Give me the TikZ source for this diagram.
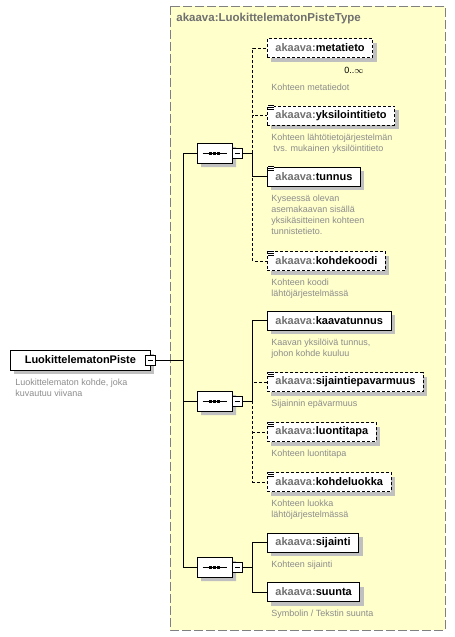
\documentclass[tikz,border=0pt]{standalone}
\usepackage{fontspec}
\setmainfont{Liberation Sans}
\usetikzlibrary{positioning,shapes.misc,shadows}
\definecolor{typefill}{RGB}{255,255,204}
\definecolor{typeline}{RGB}{128,128,128}
\definecolor{nsgray}{RGB}{112,112,112}
\definecolor{descgray}{RGB}{140,140,140}
\definecolor{shadowgray}{RGB}{192,192,192}
\newcommand{\akaava}[1]{\textcolor{nsgray}{akaava:}#1}
% three short lines in the corner of a documented element
\newcommand{\doclines}[1]{%
  \fill[white] ([xshift=1pt,yshift=1pt]#1.north west) rectangle ++(6pt,-5pt);
  \foreach \dy in {0,2,4}
    \draw[line width=0.6pt] ([xshift=1pt,yshift=-\dy pt]#1.north west) -- ++(6pt,0);}
% the dots of a sequence
\newcommand{\seqdots}[1]{%
  \draw ([xshift=-12pt]#1.center) -- ([xshift=12pt]#1.center);
  \foreach \dx in {-4,0,4}
    \fill ([xshift=\dx pt]#1.center) +(-1.5pt,-1.5pt) rectangle +(1.5pt,1.5pt);}
\newcommand{\minussign}[1]{%
  \draw ([xshift=-2.5pt]#1.center) -- ([xshift=2.5pt]#1.center);}
\tikzset{
  box/.style={draw, fill=white, minimum height=19pt, inner xsep=8pt, inner ysep=0pt,
    anchor=west, font=\fontsize{11}{13}\selectfont\bfseries,
    drop shadow={shadow xshift=4pt, shadow yshift=-4pt, fill=shadowgray, opacity=1}},
  reqbox/.style={box},
  optbox/.style={box, dash pattern=on 3pt off 2pt},
  optline/.style={dash pattern=on 3pt off 2pt},
  desc/.style={font=\fontsize{9}{11}\selectfont, text=descgray, align=left,
    inner sep=0pt, anchor=north west},
  seqbox/.style={chamfered rectangle, chamfered rectangle xsep=5pt,
    chamfered rectangle ysep=5pt, draw, fill=white, minimum width=35pt,
    minimum height=20pt, inner sep=0pt,
    drop shadow={shadow xshift=4pt, shadow yshift=-4pt, fill=shadowgray, opacity=1}},
  minusbox/.style={draw, fill=white, minimum size=10pt, inner sep=0pt},
}
\begin{document}
\begin{tikzpicture}[x=1pt, y=1pt, line width=0.8pt]
  \useasboundingbox (0,0) rectangle (455,-637);
  % the complex type
  \filldraw[fill=typefill, draw=typeline, dash pattern=on 9pt off 3pt] (170,-6) rectangle (445,-630);
  \node[anchor=west, text=nsgray, font=\fontsize{11.5}{13}\selectfont\bfseries, inner sep=0pt]
    (typename) at (176,-19) {akaava:LuokittelematonPisteType};

  % root element
  \node[box, minimum width=140pt, minimum height=20pt] (piste) at (10,-360) {LuokittelematonPiste\hspace{4pt}};
  \node[minusbox] (pistem) at ([xshift=-0.5pt]piste.east) {};
  \minussign{pistem}
  \node[desc, below right=8pt and 5pt of piste.south west] (pistedesc)
    {Luokittelematon kohde, joka\\kuvautuu viivana};

  % sequences
  \node[seqbox] (seq1) at (214.5,-153) {};
  \node[seqbox] (seq2) at (214.5,-401) {};
  \node[seqbox] (seq3) at (214.5,-567) {};
  \foreach \s in {seq1,seq2,seq3} {
    \seqdots{\s}
    \node[minusbox] (\s m) at ([xshift=5pt]\s.east) {};
    \minussign{\s m}
    \coordinate (\s f) at ([xshift=10pt]\s m.east);
  }

  % first group
  \node[optbox] (metatieto) at (267,-48) {\akaava{metatieto}};
  \node[anchor=north east, inner sep=0pt, font=\fontsize{9}{10}\selectfont]
    (metamult) at ([xshift=-9pt,yshift=-9pt]metatieto.south east) {0..$\infty$};
  \node[desc, below right=26pt and 4pt of metatieto.south west] (metatietodesc) {Kohteen metatiedot};

  \node[optbox] (yksilo) at (267,-115.5) {\akaava{yksilointitieto}};
  \doclines{yksilo}
  \node[desc, below right=8pt and 4pt of yksilo.south west] (yksilodesc)
    {Kohteen lähtötietojärjestelmän\\\hspace{2pt}tvs. mukainen yksilöintitieto};

  \node[reqbox] (tunnus) at (267,-176.5) {\akaava{tunnus}};
  \doclines{tunnus}
  \node[desc, below right=8pt and 4pt of tunnus.south west] (tunnusdesc)
    {Kyseessä olevan\\asemakaavan sisällä\\yksikäsitteinen kohteen\\tunnistetieto.};

  \node[optbox] (kohdekoodi) at (267,-261) {\akaava{kohdekoodi}};
  \doclines{kohdekoodi}
  \node[desc, below right=8pt and 4pt of kohdekoodi.south west] (kohdekoodidesc)
    {Kohteen koodi\\lähtöjärjestelmässä};

  % second group
  \node[reqbox] (kaavatunnus) at (267,-320.5) {\akaava{kaavatunnus}};
  \node[desc, below right=8pt and 4pt of kaavatunnus.south west] (kaavatunnusdesc)
    {Kaavan yksilöivä tunnus,\\johon kohde kuuluu};

  \node[optbox] (epavarmuus) at (267,-382) {\akaava{sijaintiepavarmuus}};
  \doclines{epavarmuus}
  \node[desc, below right=8pt and 4pt of epavarmuus.south west] (epavarmuusdesc)
    {Sijainnin epävarmuus};

  \node[optbox] (luontitapa) at (267,-432) {\akaava{luontitapa}};
  \doclines{luontitapa}
  \node[desc, below right=8pt and 4pt of luontitapa.south west] (luontitapadesc)
    {Kohteen luontitapa};

  \node[optbox] (kohdeluokka) at (267,-482) {\akaava{kohdeluokka}};
  \doclines{kohdeluokka}
  \node[desc, below right=8pt and 4pt of kohdeluokka.south west] (kohdeluokkadesc)
    {Kohteen luokka\\lähtöjärjestelmässä};

  % third group
  \node[reqbox] (sijainti) at (267,-542.5) {\akaava{sijainti}};
  \node[desc, below right=8pt and 4pt of sijainti.south west] (sijaintidesc)
    {Kohteen sijainti};

  \node[reqbox] (suunta) at (267,-592) {\akaava{suunta}};
  \node[desc, below right=8pt and 4pt of suunta.south west] (suuntadesc)
    {Symbolin / Tekstin suunta};

  % connectors
  \coordinate (trunk) at (183,-360);
  \draw (pistem.east) -- (trunk);
  \draw (trunk |- seq1.west) -- (trunk |- seq3.west);
  \foreach \s in {seq1,seq2,seq3}
    \draw (trunk |- \s.west) -- (\s.west) (\s.east) -- (\s m.west) (\s m.east) -- (\s f);

  \draw[optline] (seq1f) |- (metatieto.west);
  \draw[optline] (seq1f) |- (yksilo.west);
  \draw[optline] (seq1f) |- (kohdekoodi.west);
  \draw (seq1f) |- (tunnus.west);

  \draw[optline] (seq2f) |- (epavarmuus.west);
  \draw[optline] (seq2f) |- (luontitapa.west);
  \draw[optline] (seq2f) |- (kohdeluokka.west);
  \draw (seq2f) |- (kaavatunnus.west);

  \draw (seq3f) |- (sijainti.west);
  \draw (seq3f) |- (suunta.west);
\end{tikzpicture}
\end{document}
